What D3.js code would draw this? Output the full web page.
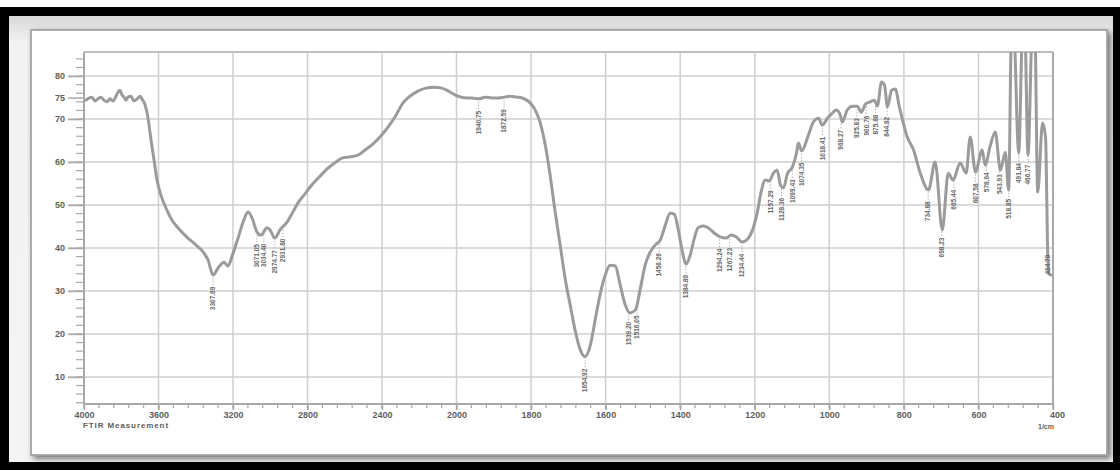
<!DOCTYPE html>
<html>
<head>
<meta charset="utf-8">
<script src="https://cdn.jsdelivr.net/npm/d3@7"></script>
<style>
  html, body { margin: 0; padding: 0; background: #ffffff; }
  svg { display: block; font-family: "Liberation Sans", Arial, sans-serif; }
</style>
</head>
<body>
<svg id="chart" width="1120" height="470"></svg>
<script>
// FTIR spectrum: wavenumber (1/cm) vs. transmittance (%T)
const wavenumbers = [3989,3973,3957,3941,3925,3909,3893,3877,3860,3844,3828,3817,3807,3796,3785,3774,3764,3748,3732,3715,3699,3689,
  3672,3656,3640,3624,3608,3587,3560,3528,3485,3442,3399,3361,3334,3307,3281,3248,3227,3205,3173,3146,3119,3098,3071,3050,3017,3001,
  2975,2948,2910,2878,2851,2819,2776,2733,2690,2647,2615,2572,2529,2491,2454,2411,2368,2325,2288,2250,2207,2164,2121,2078,2035,
  1996,1974,1958,1940,1923,1905,1889,1872,1856,1840,1824,1808,1792,1776,1762,1749,1736,1722,1708,1695,1682,1668,1655,1641,1628,
  1615,1601,1588,1574,1561,1547,1534,1520,1507,1494,1480,1467,1453,1440,1427,1416,1405,1395,1384,1373,1362,1352,1338,1325,1309,
  1293,1277,1263,1250,1234,1217,1204,1193,1183,1172,1161,1150,1140,1131,1123,1112,1099,1088,1083,1074,1056,1043,1029,1019,1005,
  992,981,970,965,952,938,925,914,903,890,879,871,860,852,844,833,823,812,791,774,756,734,716,697,681,668,649,633,622,608,590,
  582,568,555,541,528,519,511,506,492,481,476,467,455,449,441,428,420,414,412,406];

const transmittance = [74.4,74.9,75.1,74.2,74.7,75.1,74.4,74.0,74.7,74.2,75.3,76.3,76.7,75.6,75.1,74.4,75.1,75.3,74.2,74.7,75.3,74.7,
  73.3,70.2,65.1,60.5,55.8,52.3,49.3,46.5,44.2,42.3,40.7,39.1,37.2,33.7,35.3,36.7,35.8,38.1,42.3,46.0,48.4,47.0,43.7,43.0,44.7,44.2,
  42.3,44.2,46.0,48.4,50.5,52.3,54.7,56.7,58.6,60.0,60.9,61.2,61.6,62.8,64.0,65.8,68.1,70.9,73.7,75.3,76.5,77.2,77.4,77.2,76.3,
  75.3,74.9,74.9,74.7,75.1,74.9,74.9,75.1,75.3,75.1,74.9,74.2,72.6,69.3,64.0,57.0,48.8,40.7,32.6,26.7,20.9,16.3,14.7,17.4,23.3,
  29.1,33.7,36.0,35.8,31.4,26.7,24.9,25.6,30.5,36.0,39.1,40.7,41.9,45.3,48.1,47.9,44.2,39.5,36.3,38.4,42.3,44.7,45.1,44.7,43.5,
  42.6,42.3,43.0,42.6,41.4,42.3,44.7,48.4,53.0,55.8,55.6,57.4,58.1,54.7,54.0,57.4,58.8,62.1,64.4,62.6,66.3,69.3,70.2,68.6,70.2,
  71.4,72.1,70.8,69.3,72.1,73.0,73.0,71.6,73.5,74.0,74.4,73.0,78.6,77.9,72.8,76.7,77.0,72.8,65.8,62.8,57.4,53.5,60.0,44.2,57.4,
  55.8,59.8,57.4,65.8,57.7,62.8,59.3,63.9,67.0,58.1,62.3,53.5,92.0,92.0,62.1,92.0,92.0,61.6,92.0,92.0,53.0,69.1,65.8,38.0,34.2,33.7];

// Picked peak positions (1/cm)
const peakLabels = ["3307.69","3071.05","3034.40","2974.77","2931.80","1940.75","1872.59","1654.92","1539.20","1516.05",
  "1456.26","1384.89","1294.24","1267.23","1234.44","1157.29","1128.36","1099.43","1074.35","1018.41","968.27","925.83",
  "900.76","875.68","844.82","734.88","698.23","665.44","607.58","578.64","543.93","518.85","491.84","466.77","414.70"];

const xTickValues = [4000,3600,3200,2800,2400,2000,1800,1600,1400,1200,1000,800,600,400];
const yGridValues = [80,70,60,50,40,30,20,10];
const yTickValues = [80,75,70,60,50,40,30,20,10];
const xAxisNote = "FTIR Measurement";
const xUnit = "1/cm";

const spectrum = wavenumbers.map((w, i) => ({ wn: w, t: transmittance[i] }));

const svg = d3.select("#chart");
const W = 1120, H = 470;
const box = { left: 84, right: 1053, top: 52, bottom: 404 };

// Wavenumber axis: 400 1/cm per division above 2000, 200 below
const x = d3.scaleLinear().domain([4000, 2000, 400]).range([box.left, 456.5, box.right]);
const y = d3.scaleLinear().domain([3.7, 85.6]).range([box.bottom, box.top]);

const defs = svg.append("defs");
const shadow = defs.append("filter").attr("id", "panelShadow")
  .attr("x", "-5%").attr("y", "-5%").attr("width", "110%").attr("height", "115%");
shadow.append("feGaussianBlur").attr("in", "SourceAlpha").attr("stdDeviation", 3).attr("result", "b");
shadow.append("feOffset").attr("in", "b").attr("dx", 3).attr("dy", 3).attr("result", "o");
shadow.append("feComponentTransfer").attr("in", "o").attr("result", "s")
  .append("feFuncA").attr("type", "linear").attr("slope", 0.55);
const merge = shadow.append("feMerge");
merge.append("feMergeNode").attr("in", "s");
merge.append("feMergeNode").attr("in", "SourceGraphic");

const bg = defs.append("linearGradient").attr("id", "matGrad").attr("x1", 0).attr("y1", 0).attr("x2", 0).attr("y2", 1);
bg.append("stop").attr("offset", "0%").attr("stop-color", "#d8d8d8");
bg.append("stop").attr("offset", "6%").attr("stop-color", "#f2f2f2");
bg.append("stop").attr("offset", "100%").attr("stop-color", "#f4f4f4");

defs.append("clipPath").attr("id", "plotClip").append("rect")
  .attr("x", box.left).attr("y", box.top)
  .attr("width", box.right - box.left).attr("height", box.bottom - box.top);

// Framing: white page, black border, grey mat, white panel
svg.append("rect").attr("width", W).attr("height", H).attr("fill", "#ffffff");
svg.append("rect").attr("x", 0).attr("y", 7).attr("width", W).attr("height", H - 7).attr("fill", "#000000");
svg.append("rect").attr("x", 9).attr("y", 16).attr("width", 1104).attr("height", 446).attr("fill", "url(#matGrad)");
svg.append("rect").attr("x", 31).attr("y", 30).attr("width", 1076).attr("height", 425)
  .attr("fill", "#ffffff").attr("stroke", "#9a9a9a").attr("stroke-width", 1.6)
  .attr("filter", "url(#panelShadow)");

const gridColor = "#cfcfcf";
const axisColor = "#a9a9a9";
const labelColor = "#5e5e5e";

// Grid
const grid = svg.append("g");
grid.selectAll("line.h").data(yGridValues).join("line")
  .attr("x1", 68).attr("x2", box.right)
  .attr("y1", d => y(d)).attr("y2", d => y(d))
  .attr("stroke", gridColor).attr("stroke-width", 1.5);
grid.selectAll("line.v").data(xTickValues).join("line")
  .attr("x1", d => x(d)).attr("x2", d => x(d))
  .attr("y1", box.top).attr("y2", box.bottom + 6)
  .attr("stroke", gridColor).attr("stroke-width", 1.5);

// Minor ticks
const xMinor = d3.range(4000, 2000, -80).concat(d3.range(2000, 399, -40));
svg.append("g").selectAll("line").data(xMinor).join("line")
  .attr("x1", d => x(d)).attr("x2", d => x(d))
  .attr("y1", box.bottom).attr("y2", box.bottom + 4)
  .attr("stroke", axisColor).attr("stroke-width", 1.2);
const yMinor = d3.range(4, 86, 2);
svg.append("g").selectAll("line").data(yMinor).join("line")
  .attr("x1", box.left - 8).attr("x2", box.left)
  .attr("y1", d => y(d)).attr("y2", d => y(d))
  .attr("stroke", axisColor).attr("stroke-width", 1.2);

// Major axes
const xAxis = d3.axisBottom(x).tickValues(xTickValues).tickFormat(d3.format("d")).tickSize(6).tickPadding(2);
const gx = svg.append("g").attr("transform", `translate(0,${box.bottom})`).call(xAxis);
const yAxis = d3.axisLeft(y).tickValues(yTickValues).tickFormat(d3.format("d")).tickSize(16).tickPadding(3);
const gy = svg.append("g").attr("transform", `translate(${box.left},0)`).call(yAxis);
[gx, gy].forEach(g => {
  g.select(".domain").remove();
  g.selectAll(".tick line").attr("stroke", axisColor).attr("stroke-width", 1.5);
  g.selectAll(".tick text").attr("fill", labelColor)
    .attr("font-size", 9).attr("font-weight", "bold")
    .attr("font-family", "'Liberation Sans', Arial, sans-serif");
});
// last wavenumber label sits just past the frame corner
gx.selectAll(".tick").filter(d => d === 400).select("text").attr("dx", 4);

// Plot frame
const frame = svg.append("g").attr("stroke", axisColor).attr("stroke-width", 2).attr("fill", "none");
frame.append("line").attr("x1", box.left).attr("x2", box.left).attr("y1", box.top).attr("y2", box.bottom);
frame.append("line").attr("x1", box.left).attr("x2", box.right).attr("y1", box.bottom).attr("y2", box.bottom);
frame.append("line").attr("x1", box.left).attr("x2", box.right).attr("y1", box.top).attr("y2", box.top).attr("stroke", "#bdbdbd");
frame.append("line").attr("x1", box.right).attr("x2", box.right).attr("y1", box.top).attr("y2", box.bottom);

svg.append("text").attr("x", 83).attr("y", 428)
  .attr("font-size", 8).attr("font-weight", "bold").attr("letter-spacing", 0.9)
  .attr("fill", labelColor).text(xAxisNote);
svg.append("text").attr("x", 1054).attr("y", 429).attr("text-anchor", "end")
  .attr("font-size", 7).attr("font-weight", "bold")
  .attr("fill", labelColor).text(xUnit);

// Spectrum trace
const line = d3.line().x(d => x(d.wn)).y(d => y(d.t)).curve(d3.curveMonotoneX);
svg.append("path").datum(spectrum)
  .attr("clip-path", "url(#plotClip)")
  .attr("d", line)
  .attr("fill", "none").attr("stroke", "#9b9b9b").attr("stroke-width", 3)
  .attr("stroke-linejoin", "round").attr("stroke-linecap", "round");

// Transmittance at a given wavenumber (linear between samples)
function tAt(wn) {
  for (let i = 0; i < spectrum.length - 1; i++) {
    const a = spectrum[i], b = spectrum[i + 1];
    if (wn <= a.wn && wn >= b.wn) {
      const f = (a.wn - wn) / (a.wn - b.wn);
      return a.t + (b.t - a.t) * f;
    }
  }
  return spectrum[spectrum.length - 1].t;
}

// Peak annotations
const pk = svg.append("g");
peakLabels.forEach(label => {
  const wn = +label;
  const px = x(wn);
  const py = y(tAt(wn));
  pk.append("line").attr("x1", px).attr("x2", px).attr("y1", py + 3).attr("y2", py + 11)
    .attr("stroke", "#a0a0a0").attr("stroke-width", 0.8).attr("stroke-dasharray", "1.5,1.5");
  pk.append("text")
    .attr("transform", `translate(${px},${py + 12}) rotate(-90)`)
    .attr("text-anchor", "end").attr("dy", "0.35em")
    .attr("font-size", 6.5).attr("font-weight", "bold")
    .attr("fill", "#666666").text(label);
});
</script>
</body>
</html>
